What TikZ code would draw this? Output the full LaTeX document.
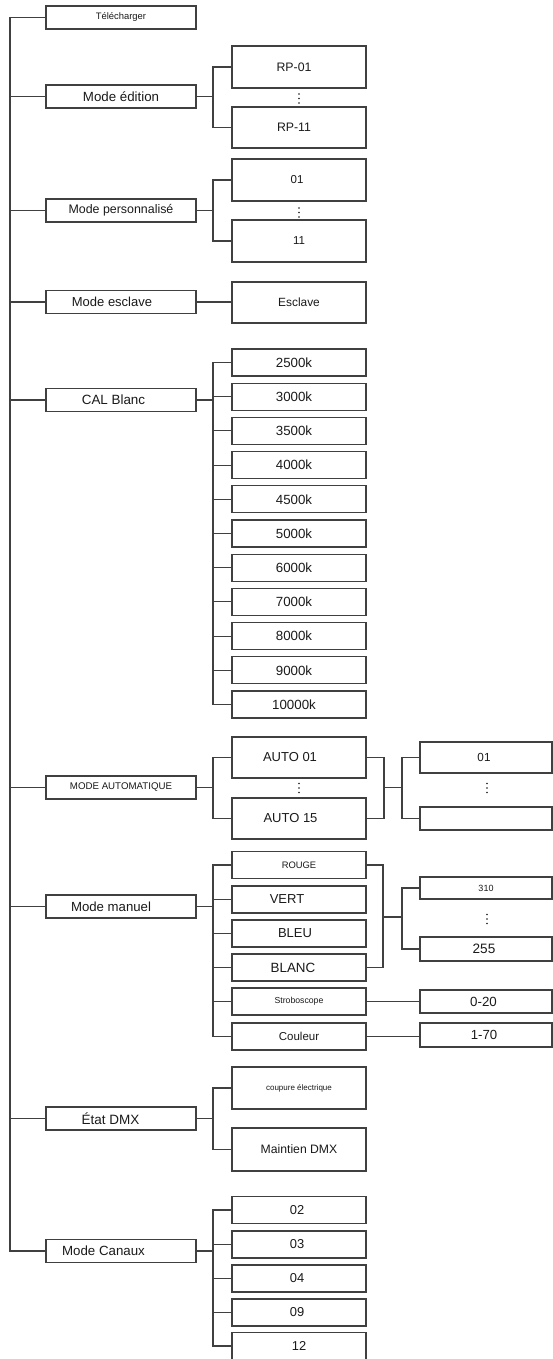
\documentclass[tikz,border=0pt]{standalone}
\usepackage{fontspec}
\setmainfont{Liberation Sans}
\definecolor{linecol}{HTML}{404040}
\definecolor{txtcol}{HTML}{1A1A1A}
\newcommand\fs[1]{\fontsize{#1}{#1}\selectfont}
\tikzset{
  box/.style={draw=linecol, line width=1.1pt, fill=white, inner sep=0pt, text=txtcol},
  lone/.style={box, minimum width=150pt, minimum height=23pt},
  ltwo/.style={box, minimum width=134pt},
  lthree/.style={box, minimum width=132pt},
  conn/.style={draw=linecol, line width=1.1pt},
}
\begin{document}
\begin{tikzpicture}[x=1pt,y=-1pt]
\useasboundingbox[fill=white] (0,0) rectangle (553,1359);
% level 1
\node[lone, font=\fs{9.4}] (tele) at (121,17.5) {Télécharger};
\node[lone, font=\fs{13.3}] (edit) at (121,96.5) {Mode édition};
\node[lone, font=\fs{12.4}] (perso) at (121,210.5) {Mode personnalisé};
\node[lone, font=\fs{13}] (escl) at (121,302) {\hspace*{-18pt}Mode esclave};
\node[lone, font=\fs{13.4}] (cal) at (121,400) {\hspace*{-15pt}CAL Blanc};
\node[lone, font=\fs{9.7}] (auto) at (121,787.5) {MODE AUTOMATIQUE};
\node[lone, font=\fs{13.2}] (manu) at (121,906.5) {\hspace*{-20pt}Mode manuel};
\node[lone, font=\fs{13.5}] (dmx) at (121,1118.5) {\hspace*{-21pt}État DMX};
\node[lone, font=\fs{13.3}] (canaux) at (121,1251) {\hspace*{-35pt}Mode Canaux};
% level 2
\node[ltwo, minimum height=42pt, font=\fs{12.3}] (rp01) at (299,67) {\hspace*{-10pt}RP-01};
\node[ltwo, minimum height=41pt, font=\fs{12.3}] (rp11) at (299,127.5) {\hspace*{-10pt}RP-11};
\node[ltwo, minimum height=42pt, font=\fs{11.5}] (p01) at (299,180) {\hspace*{-4pt}01};
\node[ltwo, minimum height=42pt, font=\fs{11.5}] (p11) at (299,241) {11};
\node[ltwo, minimum height=41pt, font=\fs{11.9}] (esc) at (299,302.5) {Esclave};
\foreach \t [count=\i from 0] in {2500k,3000k,3500k,4000k,4500k,5000k,6000k,7000k,8000k,9000k,10000k}
  \node[ltwo, minimum height=27pt, font=\fs{13.3}] (k\i) at (299,{362.5+34.2*\i}) {\hspace*{-10pt}\t};
\node[ltwo, minimum height=41pt, font=\fs{13}] (a01) at (299,757.5) {\hspace*{-18pt}AUTO 01};
\node[ltwo, minimum height=41pt, font=\fs{13}] (a15) at (299,818.5) {\hspace*{-17pt}AUTO 15};
\node[ltwo, minimum height=27pt, font=\fs{9.4}] (rouge) at (299,865) {ROUGE};
\node[ltwo, minimum height=27pt, font=\fs{13}] (vert) at (299,899.5) {\hspace*{-24pt}VERT};
\node[ltwo, minimum height=27pt, font=\fs{13}] (bleu) at (299,933.5) {\hspace*{-8pt}BLEU};
\node[ltwo, minimum height=27pt, font=\fs{13.4}] (blanc) at (299,967.5) {\hspace*{-12pt}BLANC};
\node[ltwo, minimum height=27pt, font=\fs{8.7}] (strob) at (299,1001.5) {Stroboscope};
\node[ltwo, minimum height=27pt, font=\fs{11.5}] (coul) at (299,1036.5) {Couleur};
\node[ltwo, minimum height=42pt, font=\fs{8}] (coup) at (299,1088) {coupure électrique};
\node[ltwo, minimum height=43pt, font=\fs{12.2}] (maint) at (299,1149.5) {Maintien DMX};
\node[ltwo, minimum height=27pt, font=\fs{12.9}] (c02) at (299,1210) {\hspace*{-4pt}02};
\node[ltwo, minimum height=27pt, font=\fs{12.9}] (c03) at (299,1244.5) {\hspace*{-4pt}03};
\node[ltwo, minimum height=27pt, font=\fs{12.9}] (c04) at (299,1278.5) {\hspace*{-4pt}04};
\node[ltwo, minimum height=27pt, font=\fs{12.9}] (c09) at (299,1312.5) {\hspace*{-4pt}09};
\node[ltwo, minimum height=27pt, font=\fs{12.9}] (c12) at (299,1346) {12};
% level 3
\node[lthree, minimum height=31pt, font=\fs{11.7}] (t01) at (486,757.5) {\hspace*{-4pt}01};
\node[lthree, minimum height=23pt] (tend) at (486,818.5) {};
\node[lthree, minimum height=22pt, font=\fs{9}] (v310) at (486,888) {310};
\node[lthree, minimum height=24pt, font=\fs{13.6}] (v255) at (486,949) {\hspace*{-4pt}255};
\node[lthree, minimum height=23pt, font=\fs{13.3}] (v020) at (486,1001.5) {\hspace*{-5pt}0-20};
\node[lthree, minimum height=24pt, font=\fs{13.2}] (v170) at (486,1035) {\hspace*{-4pt}1-70};
% connectors
\coordinate (T) at (10,0);
\coordinate (B) at (213,0);
\draw[conn] (tele.west) -- (tele.west -| T) |- (canaux.west);
\foreach \n in {edit,perso,escl,cal,auto,manu,dmx}
  \draw[conn] (\n.west) -- (\n.west -| T);
\foreach \p in {edit,perso,cal,auto,manu,dmx,canaux}
  \draw[conn] (\p.east) -- (\p.east -| B);
\draw[conn] (rp01.west) -- (rp01.west -| B) |- (rp11.west);
\draw[conn] (p01.west) -- (p01.west -| B) |- (p11.west);
\draw[conn] (escl.east) -- (escl.east -| esc.west);
\draw[conn] (k0.west) -- (k0.west -| B) |- (k10.west);
\foreach \i in {1,...,9}
  \draw[conn] (k\i.west) -- (k\i.west -| B);
\draw[conn] (a01.west) -- (a01.west -| B) |- (a15.west);
\draw[conn] (rouge.west) -- (rouge.west -| B) |- (coul.west);
\foreach \n in {vert,bleu,blanc,strob}
  \draw[conn] (\n.west) -- (\n.west -| B);
\draw[conn] (coup.west) -- (coup.west -| B) |- (maint.west);
\draw[conn] (c02.west) -- (c02.west -| B) |- (c12.west);
\foreach \n in {c03,c04,c09}
  \draw[conn] (\n.west) -- (\n.west -| B);
% right-hand branches
\coordinate (R1) at (384,787.5);
\coordinate (R2) at (402,787.5);
\draw[conn] (a01.east) -| (R1) |- (a15.east);
\draw[conn] (R1) -- (R2);
\draw[conn] (t01.west) -| (R2) |- (tend.west);
\coordinate (R3) at (383,917);
\coordinate (R4) at (402,917);
\draw[conn] (rouge.east) -| (R3) |- (blanc.east);
\draw[conn] (R3) -- (R4);
\draw[conn] (v310.west) -| (R4) |- (v255.west);
\draw[conn] (strob.east) -- (v020.west);
\draw[conn] (coul.east) -- (coul.east -| v170.west);
% ellipsis dots
\foreach \x/\y in {299/98.5,299/212.5,299/788,487/788,487/919}
  \foreach \d in {-4.5,0,4.5}
    \fill[txtcol] (\x,\y+\d) circle (0.9pt);
\end{tikzpicture}
\end{document}
